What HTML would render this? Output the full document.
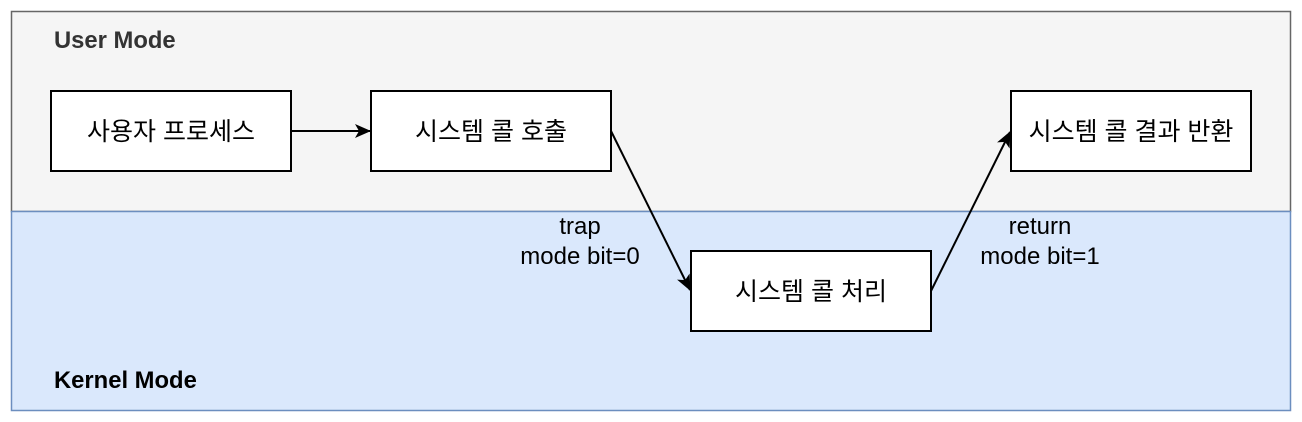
<!DOCTYPE html>
<html><head><meta charset="utf-8"><style>
html,body{margin:0;padding:0;background:#fff;}
svg{display:block;}
text{font-family:"Liberation Sans","Noto Sans CJK KR",sans-serif;}
</style></head><body>
<svg width="1302" height="422" viewBox="0 0 1302 422" xmlns="http://www.w3.org/2000/svg">
<defs>
<marker id="ah" markerWidth="18" markerHeight="18" refX="15" refY="8" orient="auto" markerUnits="userSpaceOnUse">
<path d="M0,1 L16,8 L0,15 L4,8 Z" fill="#000"/>
</marker>
</defs>
<rect x="11.5" y="11.5" width="1279" height="200" fill="#f5f5f5" stroke="#666" stroke-width="1.5"/>
<rect x="11.5" y="211.5" width="1279" height="199" fill="#dae8fc" stroke="#6c8ebf" stroke-width="1.5"/>
<text x="54" y="48" font-size="23.8" font-weight="bold" fill="#333">User Mode</text>
<text x="54" y="388" font-size="23.8" font-weight="bold" fill="#000">Kernel Mode</text>
<g fill="#fff" stroke="#000" stroke-width="2">
<rect x="51" y="91" width="240" height="80"/>
<rect x="371" y="91" width="240" height="80"/>
<rect x="1011" y="91" width="240" height="80"/>
<rect x="691" y="251" width="240" height="80"/>
</g>
<g font-size="25" fill="#000" text-anchor="middle">
<text x="171" y="140">사용자 프로세스</text>
<text x="491" y="140">시스템 콜 호출</text>
<text x="1131" y="140">시스템 콜 결과 반환</text>
<text x="811" y="300">시스템 콜 처리</text>
</g>
<g stroke="#000" stroke-width="2" fill="none">
<line x1="291" y1="131" x2="370" y2="131" marker-end="url(#ah)"/>
<line x1="611" y1="131" x2="690" y2="290" marker-end="url(#ah)"/>
<line x1="931" y1="291" x2="1010" y2="132" marker-end="url(#ah)"/>
</g>
<g font-size="24" fill="#000" text-anchor="middle">
<text x="580" y="234">trap</text>
<text x="580" y="264">mode bit=0</text>
<text x="1040" y="234">return</text>
<text x="1040" y="264">mode bit=1</text>
</g>
</svg>
</body></html>
